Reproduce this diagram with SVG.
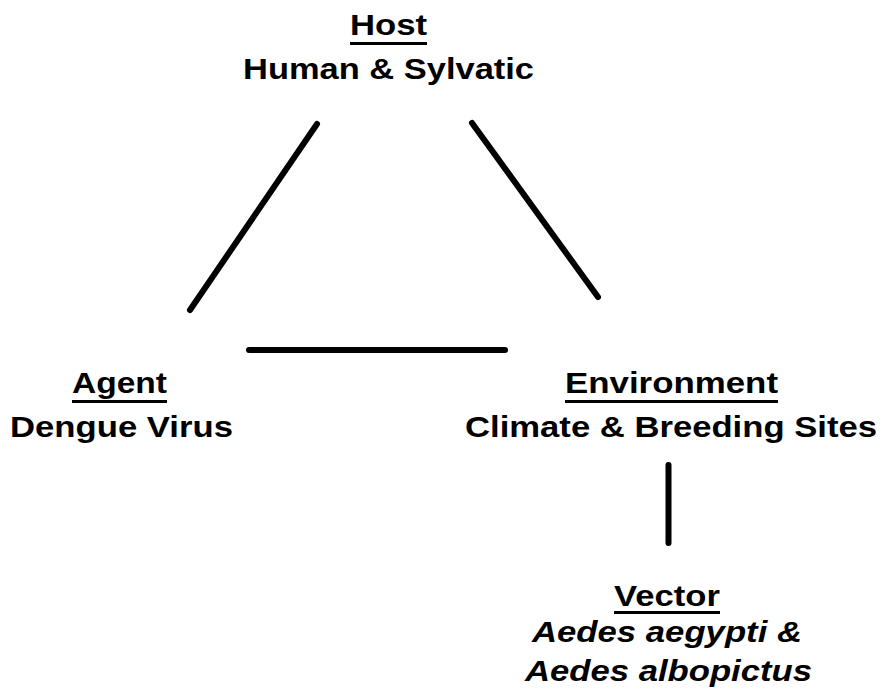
<svg xmlns="http://www.w3.org/2000/svg" width="883" height="694" viewBox="0 0 883 694">
<style>
text{font-family:"Liberation Sans",Arial,sans-serif;font-weight:bold;font-size:30px;fill:#000;text-anchor:middle}
.it{font-style:italic}
.ul{stroke:#000;stroke-width:3}
.conn line{stroke:#000;stroke-width:6;stroke-linecap:round}
</style>
<rect width="883" height="694" fill="#fff"/>
<g id="host">
<text x="388.5" y="35" textLength="77" lengthAdjust="spacingAndGlyphs">Host</text>
<line class="ul" x1="350" y1="43.5" x2="427" y2="43.5"/>
<text x="388.5" y="79" textLength="291" lengthAdjust="spacingAndGlyphs">Human &amp; Sylvatic</text>
</g>
<g id="agent">
<text x="119.5" y="393" textLength="95" lengthAdjust="spacingAndGlyphs">Agent</text>
<line class="ul" x1="72" y1="401.5" x2="167" y2="401.5"/>
<text x="121.5" y="437" textLength="223" lengthAdjust="spacingAndGlyphs">Dengue Virus</text>
</g>
<g id="environment">
<text x="671.5" y="393" textLength="213" lengthAdjust="spacingAndGlyphs">Environment</text>
<line class="ul" x1="565" y1="401.5" x2="778" y2="401.5"/>
<text x="671" y="437" textLength="412" lengthAdjust="spacingAndGlyphs">Climate &amp; Breeding Sites</text>
</g>
<g id="vector">
<text x="667" y="606" textLength="106" lengthAdjust="spacingAndGlyphs">Vector</text>
<line class="ul" x1="614" y1="612.5" x2="720" y2="612.5"/>
<text class="it" x="667" y="642" textLength="270" lengthAdjust="spacingAndGlyphs">Aedes aegypti &amp;</text>
<text class="it" x="668.5" y="681" textLength="287" lengthAdjust="spacingAndGlyphs">Aedes albopictus</text>
</g>
<g id="connectors" class="conn">
<line x1="317" y1="124" x2="190" y2="310"/>
<line x1="472" y1="123" x2="598" y2="297"/>
<line x1="249" y1="350" x2="505" y2="350" stroke-linecap="butt"/>
<line x1="668.5" y1="465" x2="668.5" y2="543" stroke-width="7" stroke-linecap="butt"/>
</g>
</svg>
